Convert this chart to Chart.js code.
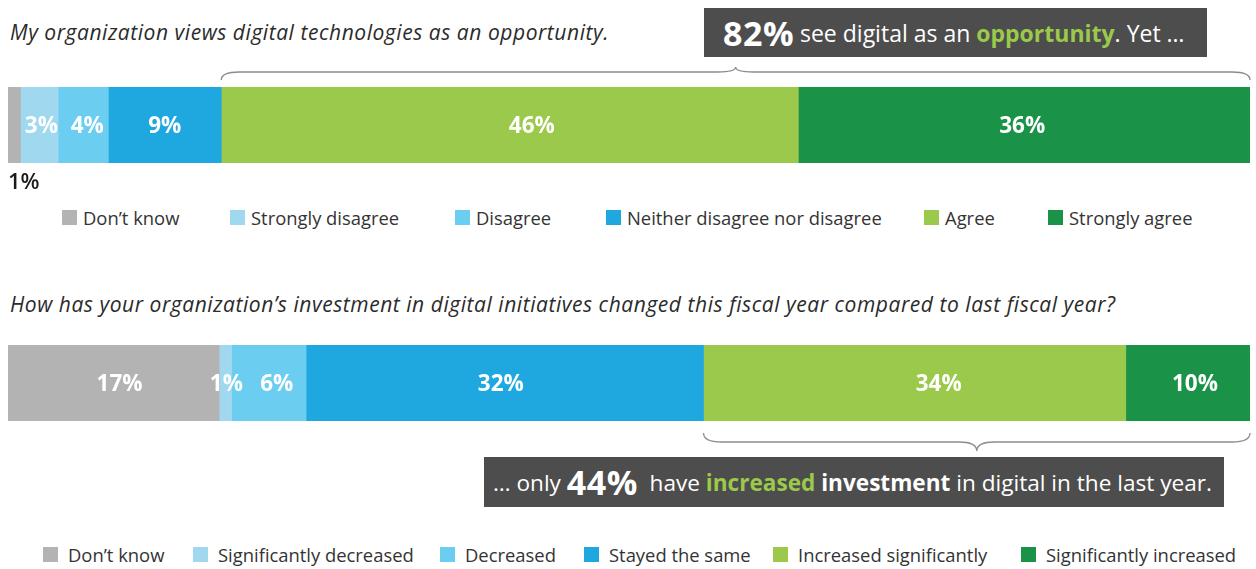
<!DOCTYPE html>
<html>
<head>
<meta charset="utf-8">
<script src="https://cdn.jsdelivr.net/npm/chart.js@4.4.1/dist/chart.umd.min.js"></script>
<style>
  body { margin: 0; background: #fff; font-family: 'Open Sans', sans-serif; }
  #page { position: relative; width: 1256px; height: 569px; overflow: hidden; }
  .title { position: absolute; left: 10px; font-style: italic; font-size: 21px; letter-spacing: 0.55px; color: #2b2b2b; white-space: nowrap; }
  .callout { position: absolute; background: #4d4d4d; color: #fff; display: flex; align-items: center; white-space: nowrap; box-sizing: border-box; }
  .callout .big { font-size: 34px; font-weight: 700; letter-spacing: 0.5px; }
  .callout .green { color: #9bc94b; font-weight: 700; }
  .callout b { font-weight: 700; }
  .legend-item { position: absolute; font-size: 18.4px; color: #333; white-space: nowrap; display: flex; align-items: center; }
  .legend-item span.sw { display: inline-block; width: 15px; height: 15px; }
  canvas { position: absolute; }
</style>
</head>
<body>
<div id="page">
  <div class="title" style="top:18px">My organization views digital technologies as an opportunity.</div>
  <div class="callout" style="left:704px; top:8px; width:503px; height:49px; padding-left:19px; font-size:23px;">
    <span class="big">82%</span>&nbsp;see digital as an&nbsp;<span class="green">opportunity</span>. Yet …
  </div>
  <canvas id="chart1" width="1256" height="140" style="left:0; top:60px;"></canvas>

  <div class="title" style="top:290px">How has your organization’s investment in digital initiatives changed this fiscal year compared to last fiscal year?</div>
  <canvas id="chart2" width="1256" height="130" style="left:0; top:330px;"></canvas>
  <div class="callout" style="left:484px; top:457px; width:740px; height:50px; padding-left:9px; font-size:22.6px;">
    …&nbsp;only&nbsp;<span class="big">44%</span>&nbsp;&nbsp;have&nbsp;<span class="green">increased</span>&nbsp;<b>investment</b>&nbsp;in digital in the last year.
  </div>
</div>
<script>
// question 1
const q1Categories = ['Don’t know', 'Strongly disagree', 'Disagree', 'Neither disagree nor disagree', 'Agree', 'Strongly agree'];
const q1Values = [1, 3, 4, 9, 46, 36];
// question 2
const q2Categories = ['Don’t know', 'Significantly decreased', 'Decreased', 'Stayed the same', 'Increased significantly', 'Significantly increased'];
const q2Values = [17, 1, 6, 32, 34, 10];
// which segments the brace groups together
const braceFrom = 4;
const braceTo = 5;

const colors = ['#b3b3b3', '#a0d8ef', '#6bcdf0', '#1fa8e0', '#9bc94b', '#1a9348'];

// legend placement (left of swatch) and label nudges, as in the original layout
const legend1Left = [62, 230, 455, 606, 924, 1048];
const legend2Left = [43, 193, 440, 584, 773, 1021];
const nudge1 = [0, 2, 4, 0, 22, -2];
const nudge2 = [6, 1, 8, -4, 24, 7];

function addLegend(cats, lefts, top, gap) {
  const page = document.getElementById('page');
  cats.forEach((c, i) => {
    const d = document.createElement('div');
    d.className = 'legend-item';
    d.style.left = lefts[i] + 'px';
    d.style.top = top + 'px';
    d.innerHTML = '<span class="sw" style="background:' + colors[i] + ';margin-right:' + gap + 'px"></span>' + c;
    page.appendChild(d);
  });
}
addLegend(q1Categories, legend1Left, 205, 6);
addLegend(q2Categories, legend2Left, 542, 10);

const labelsPlugin = {
  id: 'segLabels',
  afterDatasetsDraw(chart, args, opts) {
    const ctx = chart.ctx;
    ctx.save();
    ctx.textBaseline = 'middle';
    chart.data.datasets.forEach((ds, i) => {
      const el = chart.getDatasetMeta(i).data[0];
      const txt = ds.data[0] + '%';
      if (i === opts.outside) {
        ctx.font = '600 22px "Open Sans"';
        ctx.fillStyle = '#1a1a1a';
        ctx.textAlign = 'left';
        ctx.fillText(txt, el.base, el.y + el.height / 2 + 20);
      } else {
        ctx.font = 'bold 22.5px "Open Sans"';
        ctx.fillStyle = '#fff';
        ctx.textAlign = 'center';
        ctx.fillText(txt, (el.x + el.base) / 2 + opts.nudge[i], el.y + 2);
      }
    });
    // curly brace over the grouped segments
    const xs = chart.scales.x;
    const vals = chart.data.datasets.map(d => d.data[0]);
    let start = 0;
    for (let k = 0; k < opts.from; k++) start += vals[k];
    let end = start;
    for (let k = opts.from; k <= opts.to; k++) end += vals[k];
    const x1 = xs.getPixelForValue(start), x2 = xs.getPixelForValue(end);
    const xm = (x1 + x2) / 2;
    const area = chart.chartArea;
    const dir = opts.above ? -1 : 1;
    const yb = opts.above ? area.top - 7 : area.bottom + 12;
    const yf = yb + dir * opts.depth;
    const yp = yf + dir * opts.tip;
    const r = 18;
    ctx.strokeStyle = '#8c8c8c';
    ctx.lineWidth = 1.3;
    ctx.beginPath();
    ctx.moveTo(x1, yb);
    ctx.quadraticCurveTo(x1, yf, x1 + r, yf);
    ctx.lineTo(xm - r, yf);
    ctx.quadraticCurveTo(xm, yf, xm, yp);
    ctx.quadraticCurveTo(xm, yf, xm + r, yf);
    ctx.lineTo(x2 - r, yf);
    ctx.quadraticCurveTo(x2, yf, x2, yb);
    ctx.stroke();
    ctx.restore();
  }
};

function makeChart(id, cats, values, padding, labelOpts) {
  const total = values.reduce((a, b) => a + b, 0);
  return new Chart(document.getElementById(id), {
    type: 'bar',
    data: {
      labels: [''],
      datasets: cats.map((c, i) => ({
        label: c,
        data: [values[i]],
        backgroundColor: colors[i],
        borderWidth: 0,
        barPercentage: 1,
        categoryPercentage: 1
      }))
    },
    options: {
      indexAxis: 'y',
      responsive: false,
      animation: false,
      layout: { padding: padding },
      scales: {
        x: { stacked: true, display: false, min: 0, max: total },
        y: { stacked: true, display: false }
      },
      plugins: {
        legend: { display: false },
        tooltip: { enabled: false },
        segLabels: labelOpts
      }
    },
    plugins: [labelsPlugin]
  });
}

makeChart('chart1', q1Categories, q1Values, { left: 8, right: 6, top: 27, bottom: 37 },
  { outside: 0, nudge: nudge1, from: braceFrom, to: braceTo, above: true, depth: 8, tip: 5 });
makeChart('chart2', q2Categories, q2Values, { left: 8, right: 6, top: 15, bottom: 39 },
  { outside: -1, nudge: nudge2, from: braceFrom, to: braceTo, above: false, depth: 9, tip: 9 });
</script>
</body>
</html>
